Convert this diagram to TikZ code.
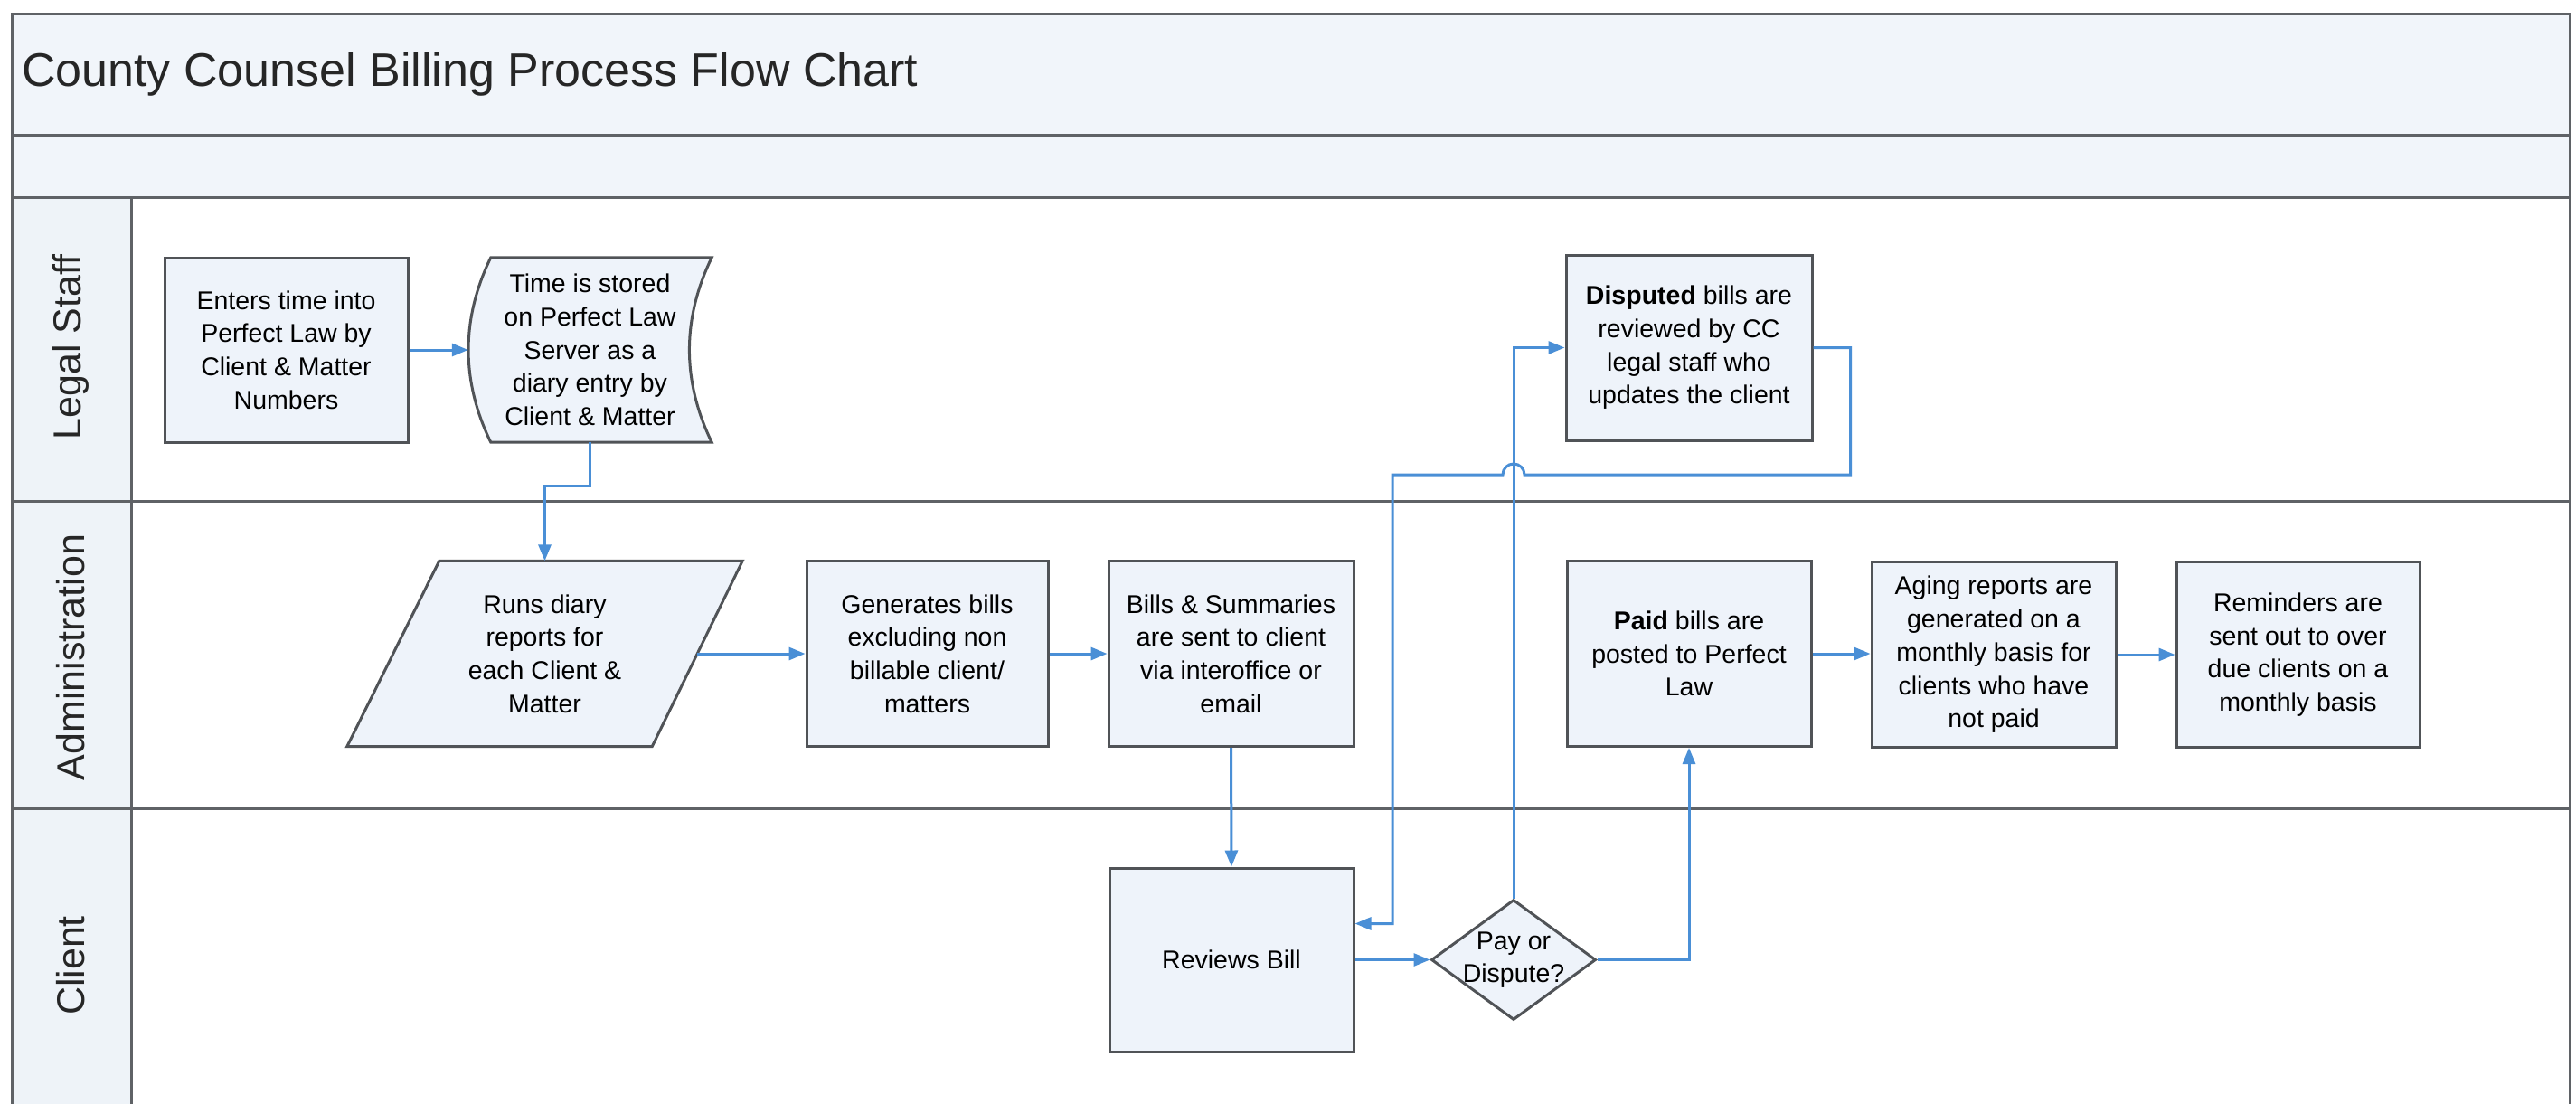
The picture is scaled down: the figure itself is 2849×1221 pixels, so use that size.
\documentclass[tikz,border=0pt]{standalone}
\usepackage{fontspec}
\setmainfont{Liberation Sans}
\usetikzlibrary{shapes.geometric,arrows.meta}
\definecolor{boxfill}{HTML}{EEF3FA}
\definecolor{boxline}{HTML}{505357}
\definecolor{flowblue}{HTML}{4A8FD6}
\definecolor{bandfill}{HTML}{F1F5FA}
\definecolor{lanefill}{HTML}{EEF3F8}
\definecolor{frameline}{HTML}{5F6266}
\newcommand{\bxfont}{\fontsize{28.5}{36.7}\selectfont}
\newcommand{\lnfont}{\fontsize{43}{50}\selectfont}
\newcommand{\ttlfont}{\fontsize{52}{60}\selectfont}
\begin{document}
\begin{tikzpicture}[x=1pt,y=-1pt,
  frame/.style={draw=frameline,line width=3pt},
  proc/.style={draw=boxline,fill=boxfill,line width=3pt,minimum width=270pt,minimum height=205pt,inner sep=0pt,align=center,font=\bxfont},
  ghost/.style={inner sep=0pt,align=center,font=\bxfont},
  shapeline/.style={draw=boxline,fill=boxfill,line width=3pt,line join=miter},
  dia/.style={diamond,draw=boxline,fill=boxfill,line width=3pt,minimum width=182pt,minimum height=133pt,inner sep=0pt},
  flow/.style={draw=flowblue,line width=3pt,-{Triangle[length=18pt,width=14pt]}},
  lanelabel/.style={rotate=90,font=\lnfont,inner sep=0pt,text=black!85}]
\useasboundingbox (0,0) rectangle (2849,1221);
\fill[white] (0,0) rectangle (2849,1221);
% bands and lane column
\fill[bandfill] (13,15) rectangle (2842,218);
\fill[lanefill] (13,218) rectangle (145,1221);
% frame
\draw[frame] (13,1221) -- (13,15) -- (2842,15) -- (2842,1221);
\draw[frame] (13,149) -- (2842,149);
\draw[frame] (13,218) -- (2842,218);
\draw[frame] (13,554) -- (2842,554);
\draw[frame] (13,894) -- (2842,894);
\draw[frame] (145,218) -- (145,1221);
% title and lane labels
\node[anchor=west,inner sep=0pt,font=\ttlfont,text=black!85] (title) at (24,82) {County Counsel Billing Process Flow Chart};
\node[lanelabel] (lls) at (78,384) {Legal Staff};
\node[lanelabel] (lad) at (78,727) {Administration};
\node[lanelabel] (lcl) at (78,1068) {Client};
% nodes
\node[proc,minimum width=269pt,minimum height=204pt] (A) at (316.5,387) {Enters time into\\Perfect Law by\\Client \& Matter\\Numbers};
\node[ghost,minimum width=269pt,minimum height=204pt] (B) at (652.5,387) {};
\draw[shapeline] ([xshift=25pt]B.north west) -- (B.north east)
  .. controls ([xshift=-33pt,yshift=-68pt]B.north east) and ([xshift=-33pt,yshift=68pt]B.south east) .. (B.south east)
  -- ([xshift=25pt]B.south west)
  .. controls ([xshift=-8pt,yshift=68pt]B.south west) and ([xshift=-8pt,yshift=-68pt]B.north west) .. ([xshift=25pt]B.north west) -- cycle;
\node[ghost] (Bt) at (B.center) {Time is stored\\on Perfect Law\\Server as a\\diary entry by\\Client \& Matter};
\node[proc,minimum width=272pt] (C) at (1868,384.5) {\textbf{Disputed} bills are\\reviewed by CC\\legal staff who\\updates the client};
\node[ghost,minimum width=437pt,minimum height=205pt] (D) at (602.5,723) {};
\draw[shapeline] ([xshift=102pt]D.north west) -- (D.north east) -- ([xshift=-100pt]D.south east) -- (D.south west) -- cycle;
\node[ghost] (Dt) at (D.center) {Runs diary\\reports for\\each Client \&\\Matter};
\coordinate (Dr) at ([xshift=-50pt]D.east);
\node[proc,minimum width=267pt] (E) at (1025.5,723) {Generates bills\\excluding non\\billable client/\\matters};
\node[proc,minimum width=271pt] (F) at (1361.5,723) {Bills \& Summaries\\are sent to client\\via interoffice or\\email};
\node[proc] (G) at (1868,723) {\textbf{Paid} bills are\\posted to Perfect\\Law};
\node[proc] (H) at (2205,724) {Aging reports are\\generated on a\\monthly basis for\\clients who have\\not paid};
\node[proc,minimum width=269pt] (I) at (2541.5,724) {Reminders are\\sent out to over\\due clients on a\\monthly basis};
\node[proc,minimum width=270pt,minimum height=203pt] (J) at (1362,1061.5) {Reviews Bill};
\node[dia] (K) at (1674,1061.5) {};
\node[ghost] (Kt) at (K.center) {Pay or\\Dispute?};
% connectors
\draw[flow] (A.east) -- (B.west);
\draw[flow] (B.south) -- ++(0,48) -| (D.north);
\draw[flow] (Dr) -- (E.west);
\draw[flow] (E.east) -- (F.west);
\draw[flow] (F.south) -- (J.north);
\draw[flow] (J.east) -- (K.west);
\draw[flow] (K.east) -| (G.south);
\draw[flow] (G.east) -- (G.east -| H.west);
\draw[flow] (H.east) -- (I.west);
\draw[flow] (K.north) |- (C.west);
\coordinate (hop) at (K.north |- 0,525);
\draw[flow] (C.east) -- ++(41,0) |- ([xshift=12pt]hop)
  arc[start angle=0,end angle=180,radius=12pt]
  -- ++(-122,0) |- ([yshift=40pt]J.east);
\end{tikzpicture}
\end{document}
